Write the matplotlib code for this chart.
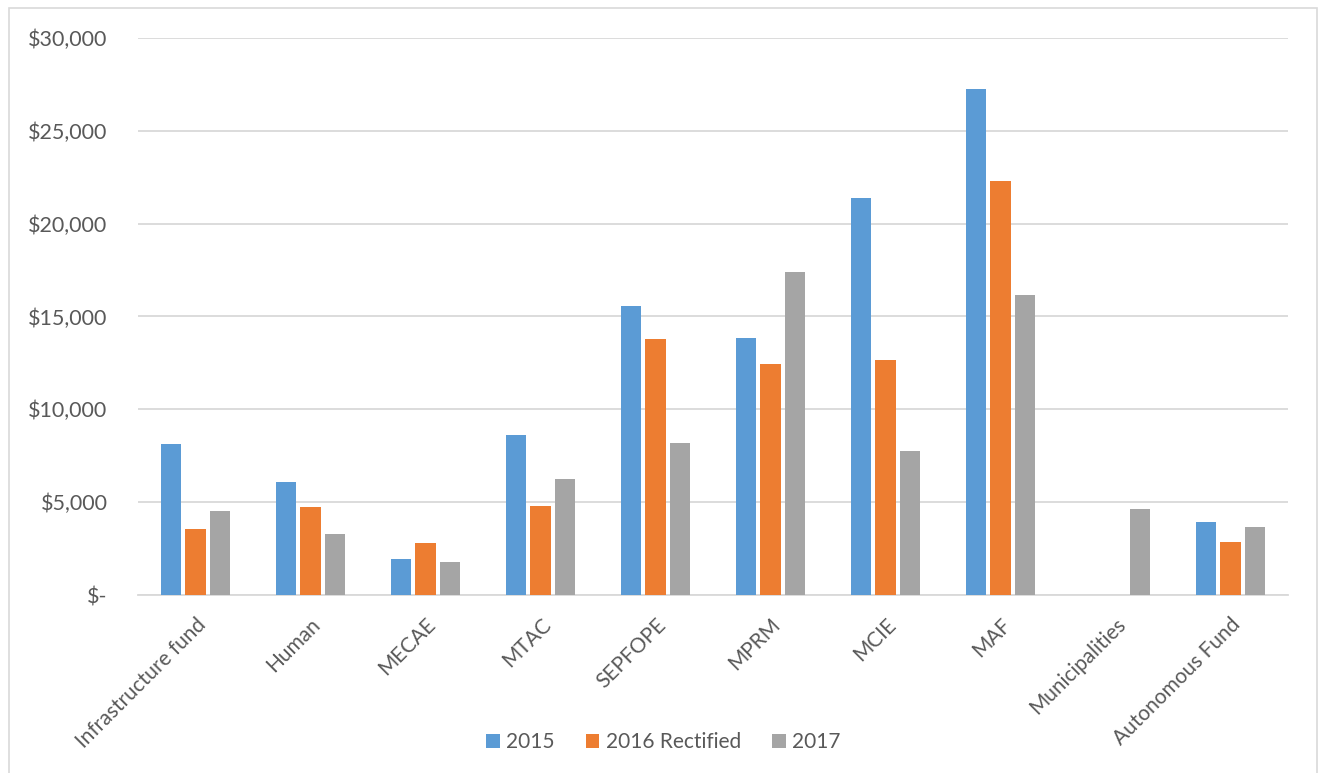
import matplotlib
matplotlib.use("Agg")
import matplotlib.pyplot as plt
import numpy as np
from matplotlib.patches import Rectangle

categories = ["Infrastructure fund", "Human", "MECAE", "MTAC", "SEPFOPE",
              "MPRM", "MCIE", "MAF", "Municipalities", "Autonomous Fund"]
v2015 = [8110, 6090, 1940, 8600, 15560, 13840, 21400, 27230, 0, 3920]
v2016 = [3560, 4730, 2810, 4790, 13770, 12430, 12650, 22290, 0, 2870]
v2017 = [4530, 3300, 1770, 6260, 8180, 17390, 7770, 16140, 4640, 3640]
series_names = ["2015", "2016 Rectified", "2017"]
colors = ["#5B9BD5", "#ED7D31", "#A5A5A5"]
yticks = [0, 5000, 10000, 15000, 20000, 25000, 30000]

plt.rcParams['font.family'] = ['Lato', 'DejaVu Sans']
text_color = "#595959"

W, H = 1319, 773
fig = plt.figure(figsize=(W / 100, H / 100), dpi=100)
ax = fig.add_axes([138 / W, 1 - 595 / H, (1288 - 138) / W, (595 - 38) / H])

x = np.arange(len(categories))
bw = 0.175
step = 0.212
for i, (vals, name, c) in enumerate(zip([v2015, v2016, v2017], series_names, colors)):
    ax.bar(x + (i - 1) * step, vals, width=bw, color=c, label=name, zorder=3)

ax.set_xlim(-0.5, len(categories) - 0.5)
ax.set_ylim(0, 30000)
ax.set_yticks(yticks)
ax.set_yticklabels(["$-" if t == 0 else "${:,}".format(t) for t in yticks],
                   fontsize=15.5, color=text_color)
ax.set_xticks(x)
ax.set_xticklabels(categories, rotation=45, ha='right', rotation_mode='anchor',
                   fontsize=15, color=text_color)
ax.tick_params(axis='both', length=0)
ax.tick_params(axis='y', pad=22)
ax.tick_params(axis='x', pad=14)
ax.yaxis.grid(True, color="#D9D9D9", linewidth=1.3, zorder=0)
for s in ["top", "right", "left"]:
    ax.spines[s].set_visible(False)
ax.spines["bottom"].set_color("#D9D9D9")
ax.spines["bottom"].set_linewidth(1.3)

fig.legend(loc='center', bbox_to_anchor=(0.503, 1 - 742 / H), ncol=3, frameon=False,
           fontsize=15, labelcolor=text_color, handlelength=0.65, handleheight=0.65,
           handletextpad=0.3, columnspacing=1.5)

fig.patches.append(Rectangle((9 / W, -0.01), (1317 - 9) / W, 1 - 8 / H + 0.01,
                             transform=fig.transFigure, fill=False,
                             edgecolor="#D9D9D9", linewidth=1.2))

fig.savefig("out.png", dpi=100, facecolor="white")
